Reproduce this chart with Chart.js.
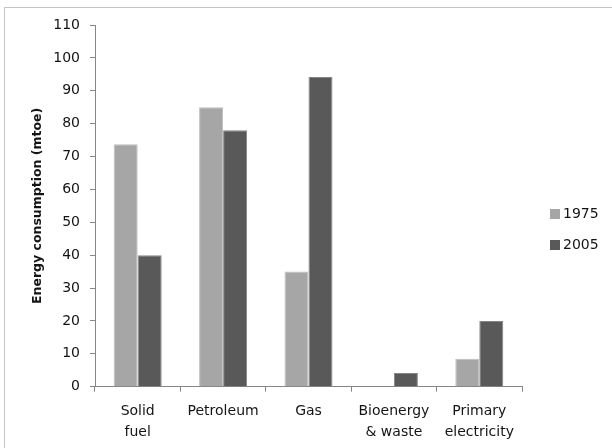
<!DOCTYPE html>
<html>
<head>
<meta charset="utf-8">
<script src="https://cdn.jsdelivr.net/npm/chart.js@4.4.1/dist/chart.umd.min.js"></script>
<style>
  html, body { margin: 0; padding: 0; background: #fff; overflow: hidden; }
  #wrap { position: relative; width: 612px; height: 448px; }
  #frame { position: absolute; left: 4px; top: 7px; width: 700px; height: 500px;
           border: 1px solid #c4c4c4; box-sizing: border-box; }
  canvas { position: absolute; left: 0; top: 0; }
</style>
</head>
<body>
<div id="wrap">
  <div id="frame"></div>
  <canvas id="chart" width="612" height="448"></canvas>
</div>
<script>
// Energy consumption by fuel type, 1975 vs 2005 (mtoe)
const categories = [['Solid', 'fuel'], 'Petroleum', 'Gas', ['Bioenergy', '& waste'], ['Primary', 'electricity']];
const seriesNames = ['1975', '2005'];
const values1975 = [73.7, 85, 35, 0, 8.5];
const values2005 = [40, 78, 94.2, 4.2, 20];
const yTicks = [0, 10, 20, 30, 40, 50, 60, 70, 80, 90, 100, 110];
const yTitle = 'Energy consumption (mtoe)';

const FONT = 'DejaVu Sans';
const AXIS = '#868686';
const TEXT = '#141414';

// Rotated y-axis caption, centred on the plot height
const yTitlePlugin = {
  id: 'yTitle',
  afterDraw(chart) {
    const ctx = chart.ctx;
    const area = chart.chartArea;
    ctx.save();
    ctx.translate(38, (area.top + area.bottom) / 2);
    ctx.rotate(-Math.PI / 2);
    ctx.font = 'bold 12.5px "' + FONT + '"';
    ctx.fillStyle = TEXT;
    ctx.textAlign = 'center';
    ctx.textBaseline = 'middle';
    ctx.fillText(yTitle, 0, 0);
    ctx.restore();
  }
};

// Legend at the right, built from the datasets
const sideLegend = {
  id: 'sideLegend',
  afterDraw(chart) {
    const ctx = chart.ctx;
    ctx.save();
    ctx.font = '14px "' + FONT + '"';
    ctx.textBaseline = 'middle';
    ctx.textAlign = 'left';
    chart.data.datasets.forEach((ds, i) => {
      const cy = 214 + i * 31;
      ctx.fillStyle = ds.backgroundColor;
      ctx.fillRect(550, cy - 5, 10, 10);
      ctx.fillStyle = TEXT;
      ctx.fillText(ds.label, 563, cy + 0.5);
    });
    ctx.restore();
  }
};

new Chart(document.getElementById('chart'), {
  type: 'bar',
  data: {
    labels: categories,
    datasets: [
      { label: seriesNames[0], data: values1975, backgroundColor: '#a6a6a6',
        borderColor: '#bdbdbd', borderWidth: 1 },
      { label: seriesNames[1], data: values2005, backgroundColor: '#595959',
        borderColor: '#858585', borderWidth: 1 }
    ]
  },
  options: {
    responsive: false,
    animation: false,
    devicePixelRatio: 1,
    categoryPercentage: 0.562,
    barPercentage: 1.0,
    layout: { padding: { left: 0, top: 25, right: 90, bottom: 0 } },
    plugins: {
      legend: { display: false },
      tooltip: { enabled: false }
    },
    scales: {
      x: {
        afterFit(scale) { scale.height = 61.3; },
        grid: { display: true, offset: true, drawOnChartArea: false,
                tickLength: 5, color: AXIS, tickColor: AXIS },
        border: { display: true, color: AXIS, width: 1 },
        ticks: { color: TEXT, padding: 9, maxRotation: 0, autoSkip: false,
                 font: { family: FONT, size: 14, lineHeight: 1.5 } }
      },
      y: {
        min: 0, max: 110,
        afterFit(scale) { scale.width = 95; },
        afterBuildTicks(scale) { scale.ticks = yTicks.map(v => ({ value: v })); },
        grid: { display: true, drawOnChartArea: false, tickLength: 5,
                color: AXIS, tickColor: AXIS },
        border: { display: true, color: AXIS, width: 1 },
        ticks: { color: TEXT, padding: 10, font: { family: FONT, size: 14 } }
      }
    }
  },
  plugins: [yTitlePlugin, sideLegend]
});
</script>
</body>
</html>
